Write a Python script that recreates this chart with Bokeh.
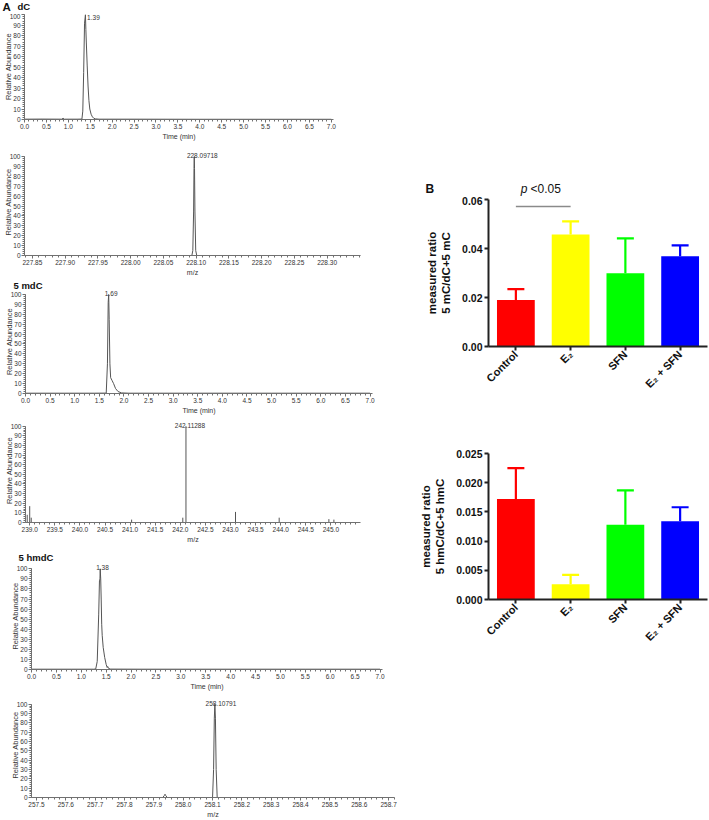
import math
import numpy as np
from bokeh.plotting import figure
from bokeh.models import (Range1d, FactorRange, FixedTicker, PrintfTickFormatter,
                          Label, ColumnDataSource, Spacer)
from bokeh.layouts import row, column
from bokeh.transform import dodge
from bokeh.core.properties import value
from bokeh.embed import file_html
from bokeh.resources import INLINE

# ---------------- data: panel A (chromatograms, relative abundance %) ----------------
dc_time = [0.00, 0.40, 0.85, 0.88, 0.91, 1.20, 1.31, 1.33, 1.35, 1.37, 1.39, 1.40, 1.41,
           1.43, 1.45, 1.47, 1.49, 1.52, 1.55, 1.58, 1.62, 1.70, 2.50, 4.00, 5.50, 7.00]
dc_abund = [0.3, 0.4, 0.3, 1.2, 0.3, 0.3, 0.4, 8, 45, 92, 100, 86, 74,
            52, 32, 18, 10, 5, 2.5, 1.2, 0.6, 0.3, 0.3, 0.2, 0.2, 0.2]

mdc_time = [0.00, 0.80, 1.40, 1.64, 1.665, 1.68, 1.69, 1.70, 1.715, 1.73, 1.76, 1.79,
            1.83, 1.88, 1.95, 2.10, 3.50, 5.00, 7.00]
mdc_abund = [0.3, 0.3, 0.3, 0.4, 30, 92, 100, 75, 30, 16, 13, 10,
             5, 2, 0.6, 0.3, 0.3, 0.3, 0.3]

hmdc_time = [0.00, 0.80, 1.25, 1.29, 1.32, 1.35, 1.365, 1.375, 1.38, 1.39, 1.40, 1.41,
             1.42, 1.44, 1.47, 1.50, 1.52, 1.53, 1.55, 1.59, 2.20, 4.00, 5.50, 7.00]
hmdc_abund = [0.3, 0.3, 0.3, 0.5, 8, 55, 88, 90, 100, 90, 70, 45,
              34, 22, 12, 5, 2, 3, 1, 0.4, 0.3, 0.3, 0.3, 0.3]

# ---------------- data: panel A (mass spectra) ----------------
dc_mz = [227.838, 228.000, 228.0935, 228.0950, 228.0962, 228.0968, 228.09718,
         228.0976, 228.0982, 228.0994, 228.1010, 228.200, 228.351]
dc_int = [0, 0, 0, 5, 45, 88, 100, 88, 45, 5, 0, 0, 0]

mdc_mz = [238.95, 239.00, 239.03, 241.03, 242.05, 242.11288, 243.10, 243.97, 244.96, 245.06]
mdc_int = [8, 17, 5, 3, 5, 100, 11, 5, 3.5, 3]

hmdc_mz = [257.483, 257.930, 257.9355, 257.938, 257.9405, 257.946, 258.100, 258.1035,
           258.1060, 258.10791, 258.1098, 258.1123, 258.1158, 258.72]
hmdc_int = [0, 0, 2, 3.5, 2, 0, 0, 30, 85, 100, 85, 30, 0, 0]

dc_rt_text, mdc_rt_text, hmdc_rt_text = "1.39", "1.69", "1.38"
dc_mz_text, mdc_mz_text, hmdc_mz_text = "228.09718", "242.11288", "258.10791"

time_ticks = [0.0, 0.5, 1.0, 1.5, 2.0, 2.5, 3.0, 3.5, 4.0, 4.5, 5.0, 5.5, 6.0, 6.5, 7.0]
abund_ticks = [0, 10, 20, 30, 40, 50, 60, 70, 80, 90, 100]
dc_mz_ticks = [227.85, 227.90, 227.95, 228.00, 228.05, 228.10, 228.15, 228.20, 228.25, 228.30]
mdc_mz_ticks = [239.0, 239.5, 240.0, 240.5, 241.0, 241.5, 242.0, 242.5, 243.0, 243.5,
                244.0, 244.5, 245.0]
hmdc_mz_ticks = [257.5, 257.6, 257.7, 257.8, 257.9, 258.0, 258.1, 258.2, 258.3, 258.4,
                 258.5, 258.6, 258.7]

# ---------------- data: panel B ----------------
groups = ["Control", "E\u2082", "SFN", "E\u2082 + SFN"]
bar_colors = ["#ff0000", "#ffff00", "#00ff00", "#0000ff"]
mc_mean = [0.0190, 0.0457, 0.0299, 0.0368]
mc_sem = [0.0044, 0.0054, 0.0142, 0.0045]
hmc_mean = [0.0172, 0.0026, 0.0128, 0.0134]
hmc_sem = [0.0053, 0.0016, 0.0059, 0.0024]
mc_ticks = [0.00, 0.02, 0.04, 0.06]
hmc_ticks = [0.000, 0.005, 0.010, 0.015, 0.020, 0.025]
sig_line_y = 0.0571

# ---------------- styling ----------------
FONT = "Liberation Sans"
AXC = "#707070"
TXT = "#333333"
TRACE = "#555555"


def minor_list(lo, hi, step):
    start = math.ceil(lo / step) * step
    return [round(v, 5) for v in np.arange(start, hi, step)]


def header(width, height, texts):
    """A strip of titles; x/y in pixels from the strip's top-left corner."""
    p = figure(width=width, height=height, x_range=Range1d(0, width),
               y_range=Range1d(height, 0), x_axis_type=None, y_axis_type=None,
               title=None, output_backend="svg", toolbar_location=None, frame_align=False,
               min_border_left=0, min_border_right=0, min_border_top=0, min_border_bottom=0)
    p.grid.visible = False
    p.outline_line_color = None
    for (x, y, t, size, style, align) in texts:
        p.text(x=[x], y=[y], text=[t], text_font=value(FONT), text_font_size=value(size),
               text_font_style=value(style), text_align=value(align),
               text_baseline=value("middle"), text_color="#111111")
    return p


def panel_a(height, left, right, bottom, ytop, xr, xticks, minor_step, fmt, xlabel):
    p = figure(width=400, height=height, x_range=Range1d(*xr), y_range=Range1d(0, ytop),
               title=None, output_backend="svg", toolbar_location=None, frame_align=False,
               min_border_left=left, min_border_right=right,
               min_border_top=0, min_border_bottom=bottom)
    p.xgrid.visible = False
    p.ygrid.visible = False
    p.outline_line_color = None
    xa, ya = p.xaxis[0], p.yaxis[0]
    xa.ticker = FixedTicker(ticks=xticks, minor_ticks=minor_list(xr[0], xr[1], minor_step))
    xa.formatter = PrintfTickFormatter(format=fmt)
    ya.ticker = FixedTicker(ticks=abund_ticks, minor_ticks=minor_list(0, 101, 2))
    ya.bounds = (0, 100)
    xa.axis_label = xlabel
    ya.axis_label = "Relative Abundance"
    for ax in (xa, ya):
        ax.axis_line_color = AXC
        ax.major_tick_line_color = AXC
        ax.minor_tick_line_color = AXC
        ax.major_tick_out = 3
        ax.major_tick_in = 0
        ax.minor_tick_out = 2
        ax.minor_tick_in = 0
        ax.major_label_text_font = FONT
        ax.major_label_text_font_size = "6.5px"
        ax.major_label_text_color = TXT
        ax.axis_label_text_font = FONT
        ax.axis_label_text_font_style = "normal"
        ax.axis_label_text_color = TXT
    xa.major_label_standoff = 1
    xa.axis_label_standoff = 1
    ya.major_label_standoff = 1
    ya.axis_label_standoff = -6
    xa.axis_label_text_font_size = "7px"
    ya.axis_label_text_font_size = "7.5px"
    return p


def peak_label(p, xs, ys, text, dx, dy=1.0):
    i = int(np.argmax(ys))
    p.add_layout(Label(x=xs[i], y=ys[i] + dy, text=text, text_align="center",
                       text_baseline="middle", x_offset=dx, text_font=FONT,
                       text_font_size="6.5px", text_color=TXT))


# --- dC chromatogram
h1 = header(400, 13, [(2, 6.5, "A", "11.5px", "bold", "left"),
                      (17, 5.6, "dC", "9.5px", "bold", "left")])
f1 = panel_a(135, 24, 67, 29, 101.24, (0, 7.05), time_ticks, 0.1, "%.1f", "Time (min)")
f1.line(dc_time, dc_abund, line_color=TRACE, line_width=1)
peak_label(f1, dc_time, dc_abund, dc_rt_text, 8, -2.4)

# --- dC spectrum
f2 = panel_a(130, 24, 40, 21, 108.3, (227.838, 228.351), dc_mz_ticks, 0.01, "%.2f", "m/z")
f2.line(dc_mz, dc_int, line_color=TRACE, line_width=1)
peak_label(f2, dc_mz, dc_int, dc_mz_text, 8)

# --- 5 mdC chromatogram
h3 = header(400, 11, [(13, 5.5, "5 mdC", "9.5px", "bold", "left")])
f3 = panel_a(129, 25, 28, 25, 105.05, (0, 7.05), time_ticks, 0.1, "%.1f", "Time (min)")
f3.line(mdc_time, mdc_abund, line_color=TRACE, line_width=1)
peak_label(f3, mdc_time, mdc_abund, mdc_rt_text, 2.5, 0.7)

# --- 5 mdC spectrum (centroid sticks)
f4 = panel_a(130, 25, 40, 26, 108.0, (238.916, 245.59), mdc_mz_ticks, 0.1, "%.1f", "m/z")
f4.segment(x0=mdc_mz, x1=mdc_mz, y0=0, y1=mdc_int, line_color=TRACE, line_width=1)
peak_label(f4, mdc_mz, mdc_int, mdc_mz_text, 4)

# --- 5 hmdC chromatogram
h5 = header(400, 14, [(18, 8.5, "5 hmdC", "9.5px", "bold", "left")])
f5 = panel_a(130, 31, 18, 23, 106.3, (0, 7.05), time_ticks, 0.1, "%.1f", "Time (min)")
f5.line(hmdc_time, hmdc_abund, line_color=TRACE, line_width=1)
peak_label(f5, hmdc_time, hmdc_abund, hmdc_rt_text, 2.3)

# --- 5 hmdC spectrum
f6 = panel_a(128, 31, 6, 20, 112.5, (257.483, 258.72), hmdc_mz_ticks, 0.02, "%.1f", "m/z")
f6.line(hmdc_mz, hmdc_int, line_color=TRACE, line_width=1)
peak_label(f6, hmdc_mz, hmdc_int, hmdc_mz_text, 6)


# ---------------- panel B ----------------
def panel_b(means, sems, ticks, fmt, ylabel, height, top, bottom):
    p = figure(width=309, height=height, x_range=FactorRange(factors=groups),
               y_range=Range1d(ticks[0], ticks[-1]), title=None, output_backend="svg",
               toolbar_location=None, frame_align=False, min_border_left=88,
               min_border_right=2, min_border_top=top, min_border_bottom=bottom)
    p.xgrid.visible = False
    p.ygrid.visible = False
    p.outline_line_color = None
    src = ColumnDataSource(dict(g=groups, m=means,
                                hi=[m + s for m, s in zip(means, sems)], c=bar_colors))
    p.segment(x0="g", x1="g", y0="m", y1="hi", line_color="c", line_width=2.2, source=src)
    p.segment(x0=dodge("g", -0.155, range=p.x_range), x1=dodge("g", 0.155, range=p.x_range),
              y0="hi", y1="hi", line_color="c", line_width=2.2, source=src)
    p.vbar(x="g", top="m", bottom=0, width=0.69, fill_color="c", line_color=None, source=src)
    xa, ya = p.xaxis[0], p.yaxis[0]
    ya.ticker = FixedTicker(ticks=ticks)
    ya.formatter = PrintfTickFormatter(format=fmt)
    ya.axis_label = ylabel
    xa.major_label_orientation = math.pi / 4
    for ax in (xa, ya):
        ax.axis_line_color = "#222222"
        ax.axis_line_width = 2
        ax.major_tick_line_color = "#222222"
        ax.major_tick_line_width = 2
        ax.major_tick_out = 4
        ax.major_tick_in = 0
        ax.minor_tick_line_color = None
        ax.major_label_text_font = FONT
        ax.major_label_text_font_style = "bold"
        ax.major_label_text_font_size = "10.5px"
        ax.major_label_text_color = "#111111"
        ax.major_label_standoff = 2
    ya.axis_label_text_font = FONT
    ya.axis_label_text_font_style = "bold"
    ya.axis_label_text_font_size = "11.5px"
    ya.axis_label_text_color = "#111111"
    ya.axis_label_standoff = 7
    xa.major_label_text_font_size = "11px"
    return p


hb = header(309, 26, [(25, 18.6, "B", "12px", "bold", "left"),
                      (127, 18.6, "p", "12px", "italic", "right"),
                      (130, 18.6, "<0.05", "12px", "normal", "left")])
b1 = panel_b(mc_mean, mc_sem, mc_ticks, "%.2f", "measured ratio\n5 mC/dC+5 mC", 214, 3, 64)
b1.segment(x0=[groups[0]], x1=[groups[1]], y0=[sig_line_y], y1=[sig_line_y],
           line_color="#8a8a8a", line_width=1.5)

b2 = panel_b(hmc_mean, hmc_sem, hmc_ticks, "%.3f", "measured ratio\n5 hmC/dC+5 hmC", 249, 43, 60)

left_col = column(h1, f1, f2, h3, f3, f4, h5, f5, f6)
right_col = column(Spacer(width=309, height=170), hb, b1, b2)
root = row(left_col, right_col)

open("out.html", "w").write(file_html(root, INLINE))
